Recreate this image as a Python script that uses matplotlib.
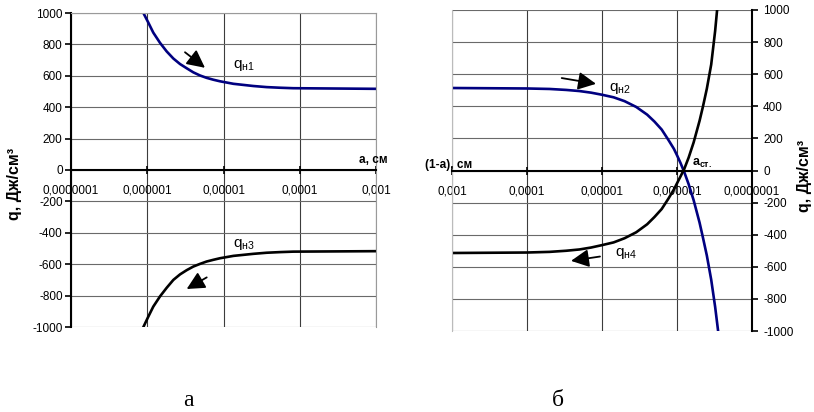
import numpy as np
import matplotlib
matplotlib.use("Agg")
from matplotlib import pyplot as plt
from matplotlib.ticker import FixedLocator, FixedFormatter, NullLocator

plt.rcParams['font.family'] = ['Liberation Sans', 'DejaVu Sans']
plt.rcParams['mathtext.fontset'] = 'custom'
plt.rcParams['mathtext.rm'] = 'Liberation Sans'
plt.rcParams['mathtext.bf'] = 'Liberation Sans:bold'
plt.rcParams['mathtext.default'] = 'regular'

# ---- data ----
# left panel, x = a, cm
a_q1 = [8.9e-7, 1.03e-6, 1.2e-6, 1.47e-6, 1.8e-6, 2.2e-6, 2.69e-6, 3.29e-6, 4.02e-6, 4.92e-6,
        6.0e-6, 7.36e-6, 9.0e-6, 1.35e-5, 2.46e-5, 3.68e-5, 5.5e-5, 8.2e-5, 1e-3]
q_n1 = [1000, 940, 875, 810, 755, 710, 675, 648, 622, 602,
        587, 575, 565, 549, 535, 528, 524, 521, 517]
a_q3 = [8.9e-7, 1.03e-6, 1.2e-6, 1.47e-6, 1.8e-6, 2.2e-6, 2.69e-6, 3.29e-6, 4.02e-6, 4.92e-6,
        6.0e-6, 7.36e-6, 9.0e-6, 1.35e-5, 2.46e-5, 3.68e-5, 5.5e-5, 8.2e-5, 1e-3]
q_n3 = [-1000, -935, -870, -805, -750, -700, -665, -638, -615, -598,
        -583, -572, -562, -547, -534, -527, -523, -520, -517]

# right panel, x = 1-a, cm
b_q2 = [1e-3, 1e-4, 5e-5, 3e-5, 2e-5, 1.4e-5, 1e-5, 7e-6, 5e-6, 3.5e-6, 2.5e-6, 2e-6, 1.6e-6,
        1.3e-6, 1.1e-6, 1e-6, 9e-7, 8e-7, 7e-7, 6e-7, 5e-7, 4.5e-7, 4e-7, 3.5e-7, 3.1e-7, 2.83e-7]
q_n2 = [514, 511, 508, 502, 495, 485, 472, 456, 432, 396, 348, 305, 255,
        190, 135, 95, 48, -10, -85, -185, -325, -420, -530, -680, -850, -1000]
b_q4 = [1e-3, 1e-4, 5e-5, 3e-5, 2e-5, 1.4e-5, 1e-5, 7e-6, 5e-6, 3.5e-6, 2.5e-6, 2e-6, 1.6e-6,
        1.3e-6, 1.1e-6, 1e-6, 9e-7, 8e-7, 7e-7, 6e-7, 5e-7, 4.5e-7, 4e-7, 3.5e-7, 3.1e-7, 2.92e-7]
q_n4 = [-514, -511, -507, -500, -492, -480, -465, -448, -422, -385, -335, -290, -240,
        -175, -118, -80, -38, 10, 80, 175, 310, 400, 510, 660, 870, 1000]

x_ticks = [1e-7, 1e-6, 1e-5, 1e-4, 1e-3]
x_tick_labels = ["0,0000001", "0,000001", "0,00001", "0,0001", "0,001"]
y_ticks = [-1000, -800, -600, -400, -200, 0, 200, 400, 600, 800, 1000]
y_tick_labels = [str(v) for v in y_ticks]

NAVY = '#000080'

W, H = 814, 412
fig = plt.figure(figsize=(W / 100, H / 100), dpi=100)


def box(l, t, r, b):
    return [l / W, 1 - b / H, (r - l) / W, (b - t) / H]


def style_axes(ax):
    ax.set_xscale('log')
    ax.set_ylim(-1000, 1000)
    ax.xaxis.set_major_locator(FixedLocator(x_ticks))
    ax.xaxis.set_major_formatter(FixedFormatter(x_tick_labels))
    ax.xaxis.set_minor_locator(NullLocator())
    ax.yaxis.set_major_locator(FixedLocator(y_ticks))
    ax.yaxis.set_major_formatter(FixedFormatter(y_tick_labels))
    ax.grid(True, which='major', axis='x', color='#3c3c3c', lw=0.8)
    ax.grid(True, which='major', axis='y', color='#6a6a6a', lw=0.8)
    ax.set_axisbelow(True)
    ax.spines['bottom'].set_position(('data', 0))
    ax.spines['bottom'].set_color('black')
    ax.spines['bottom'].set_linewidth(1.5)
    ax.tick_params(axis='x', direction='inout', length=6, width=1.2, pad=7.5,
                   labelsize=8.5, colors='black')
    ax.tick_params(axis='y', direction='out', length=4, width=1.2, pad=2,
                   labelsize=8.5, colors='black')


def arrow(ax, tail, head):
    ax.annotate('', xy=head, xytext=tail,
                arrowprops=dict(arrowstyle='-|>,head_length=0.9,head_width=0.45',
                                color='black', lw=1.3, mutation_scale=12,
                                shrinkA=0, shrinkB=0))


# ---- left panel ----
ax1 = fig.add_axes(box(71, 13, 376, 327))
style_axes(ax1)
ax1.set_xlim(1e-7, 1e-3)
ax1.spines['left'].set_color('black')
ax1.spines['left'].set_linewidth(1.5)
for s in ('top', 'right'):
    ax1.spines[s].set_color('#9a9a9a')
ax1.plot(a_q1, q_n1, color=NAVY, lw=1.9)
ax1.plot(a_q3, q_n3, color='black', lw=1.9)
arrow(ax1, (10 ** -5.505, 750), (10 ** -5.243, 651))
arrow(ax1, (10 ** -5.22, -684), (10 ** -5.483, -758))
ax1.text(10 ** -4.879, 651, r'q$_{н1}$', fontsize=11, va='baseline', ha='left')
ax1.text(10 ** -4.879, -492, r'q$_{н3}$', fontsize=11, va='baseline', ha='left')
ax1.text(388 / W, 1 - 163 / H, 'a, см', transform=fig.transFigure, fontsize=8.5,
         fontweight='bold', ha='right', va='baseline')

# ---- right panel ----
ax2 = fig.add_axes(box(452, 10, 752, 331))
style_axes(ax2)
ax2.set_xlim(1e-3, 1e-7)
ax2.yaxis.tick_right()
ax2.tick_params(axis='y', pad=4)
ax2.spines['right'].set_color('black')
ax2.spines['right'].set_linewidth(1.5)
ax2.spines['left'].set_color('#bbbbbb')
ax2.spines['top'].set_visible(False)
ax2.plot(b_q2, q_n2, color=NAVY, lw=1.9)
ax2.plot(b_q4, q_n4, color='black', lw=1.9)
arrow(ax2, (10 ** -4.463, 576), (10 ** -4.92, 540))
arrow(ax2, (10 ** -4.973, -536), (10 ** -4.587, -563))
ax2.text(10 ** -5.097, 493, r'q$_{н2}$', fontsize=11, va='baseline', ha='left')
ax2.text(10 ** -5.173, -532, r'q$_{н4}$', fontsize=11, va='baseline', ha='left')
ax2.text(10 ** -6.2, 30, r'a$_{ст.}$', fontsize=9, fontweight='bold', va='baseline', ha='left')
ax2.text(425 / W, 1 - 168 / H, '(1-a), см', transform=fig.transFigure, fontsize=8.5,
         fontweight='bold', ha='left', va='baseline')

# axis titles
fig.text(15 / W, 1 - 184 / H, 'q, Дж/см³', rotation=90, fontsize=11.5, fontweight='bold',
         ha='center', va='center')
fig.text(804 / W, 1 - 176 / H, 'q, Дж/см³', rotation=90, fontsize=11.5, fontweight='bold',
         ha='center', va='center')

# panel captions
fig.text(188 / W, 1 - 400 / H, 'а', fontsize=17, family='Liberation Serif',
         ha='center', va='center')
fig.text(558 / W, 1 - 400 / H, 'б', fontsize=17, family='Liberation Serif',
         ha='center', va='center')

fig.savefig('out.png', dpi=100)
